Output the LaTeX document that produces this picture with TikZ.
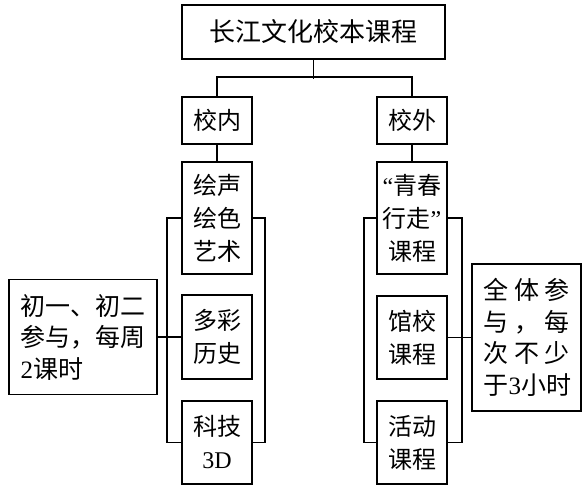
\documentclass[tikz,border=0pt]{standalone}
\usepackage{fontspec}
\setmainfont{Noto Sans CJK SC}
\newfontfamily\lat{Liberation Serif}
\begin{document}
\begin{tikzpicture}[x=1pt,y=-1pt,
  box/.style={draw,line width=1.8pt,inner sep=0pt,align=center,
    minimum width=70pt,font=\fontsize{24}{33}\selectfont},
  link/.style={line width=1.3pt}]
\useasboundingbox (0,0) rectangle (585,489);
% top
\node[box,minimum width=263pt,minimum height=54pt,font=\fontsize{26}{30}\selectfont] (top) at (313.5,32) {长江文化校本课程};
\node[box,minimum height=47pt] (in) at (217,120.5) {校内};
\node[box,minimum height=47pt] (out) at (412,120.5) {校外};
% left column
\node[box,minimum height=112pt] (a1) at (217,218) {绘声\\绘色\\艺术};
\node[box,minimum height=84pt] (a2) at (217,337) {多彩\\历史};
\node[box,minimum height=83pt] (a3) at (217,442.5) {科技\\{\lat 3D}};
% right column
\node[box,minimum height=112pt] (b1) at (412,218) {{\lat “}青春\\行走{\lat ”}\\课程};
\node[box,minimum height=83pt] (b2) at (412,337.5) {馆校\\课程};
\node[box,minimum height=83pt] (b3) at (412,442.5) {活动\\课程};
% notes
\node[box,minimum width=148pt,minimum height=115pt,align=left,
  font=\fontsize{25}{31.5}\selectfont] (nl) at (83,337) {初一、初二\\参与，每周\\{\lat 2}课时};
\node[box,minimum width=109pt,minimum height=147pt,align=left,
  font=\fontsize{25}{31.5}\selectfont] (nr) at (526.5,337.5)
  {\hbox to 86pt{全\hfil 体\hfil 参}\\\hbox to 86pt{与\hfil ，\hfil 每}\\\hbox to 86pt{次\hfil 不\hfil 少}\\\hbox to 86pt{于\hfil {\lat 3}\hfil 小\hfil 时}};
% connectors
\draw[link] (top.south) -- ++(0,19);
\draw[link] (in.north) -- ++(0,-19) -| (out.north);
\draw[link] (in.south) -- (a1.north);
\draw[link] (out.south) -- (b1.north);
\draw[link] (a1.west) -- ++(-14,0) |- (a3.west);
\draw[link] (a1.east) -- ++(12,0) |- (a3.east);
\draw[link] (b1.west) -- ++(-12,0) |- (b3.west);
\draw[link] (b1.east) -- ++(14,0) |- (b3.east);
\draw[link] (nl.east) -- (a2.west);
\draw[link] (b2.east) -- (nr.west);
\end{tikzpicture}
\end{document}
